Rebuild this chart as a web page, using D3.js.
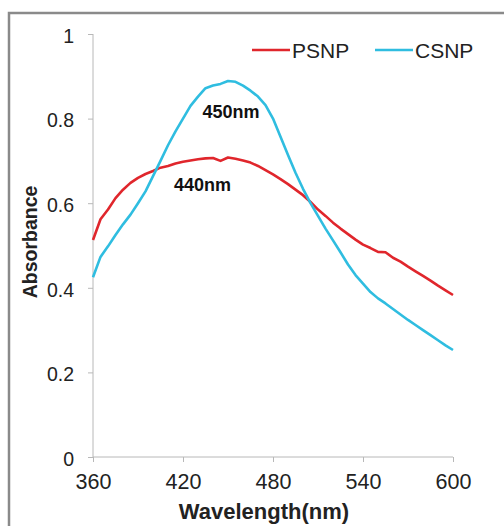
<!DOCTYPE html>
<html>
<head>
<meta charset="utf-8">
<script src="https://cdn.jsdelivr.net/npm/d3@7"></script>
<style>
  body { margin: 0; background: #fff; }
  svg { display: block; font-family: "Liberation Sans", Arial, sans-serif; }
  .axis path, .axis line { stroke: #b8b8b8; }
  .axis text { fill: #222; }
</style>
</head>
<body>
<div id="chart"></div>
<script>
// wavelength (nm) sampled every 5 nm
const wavelengths = [
  360, 365, 370, 375, 380, 385, 390, 395, 400, 405, 410, 415, 420, 425, 430, 435, 440,
  445, 450, 455, 460, 465, 470, 475, 480, 485, 490, 495, 500, 505, 510, 515, 520,
  525, 530, 535, 540, 545, 550, 555, 560, 565, 570, 575, 580, 585, 590, 595, 600
];

const psnp = [
  0.513, 0.562, 0.585, 0.612, 0.632, 0.648, 0.660, 0.669, 0.676, 0.684, 0.688, 0.694, 0.698, 0.701, 0.704, 0.706, 0.707,
  0.700, 0.708, 0.705, 0.701, 0.696, 0.688, 0.678, 0.668, 0.657, 0.645, 0.632, 0.619, 0.603, 0.585, 0.570, 0.554,
  0.540, 0.527, 0.514, 0.502, 0.494, 0.485, 0.484, 0.471, 0.462, 0.450, 0.439, 0.428, 0.417, 0.405, 0.394, 0.383
];

const csnp = [
  0.425, 0.473, 0.498, 0.525, 0.550, 0.573, 0.600, 0.628, 0.664, 0.700, 0.737, 0.770, 0.800, 0.830, 0.852, 0.872, 0.878,
  0.882, 0.889, 0.887, 0.878, 0.866, 0.852, 0.832, 0.800, 0.757, 0.714, 0.672, 0.634, 0.600, 0.570, 0.540, 0.512,
  0.484, 0.455, 0.430, 0.410, 0.390, 0.375, 0.363, 0.350, 0.337, 0.324, 0.312, 0.300, 0.288, 0.276, 0.264, 0.253
];

const xTicks = [360, 420, 480, 540, 600];
const yTicks = [0, 0.2, 0.4, 0.6, 0.8, 1];
const yTickLabels = ["0", "0.2", "0.4", "0.6", "0.8", "1"];

const seriesNames = ["PSNP", "CSNP"];
const seriesColors = ["#e0262c", "#2fbde0"];

// peak labels, placed in data units
const peakLabels = ["450nm", "440nm"];
const peakX = [452, 433];
const peakY = [0.816, 0.644];

(function () {
  const width = 504;
  const height = 526;
  const margin = { top: 34, right: 51, bottom: 69, left: 93 };
  const innerWidth = width - margin.left - margin.right;
  const innerHeight = height - margin.top - margin.bottom;

  const svg = d3.select("#chart")
    .append("svg")
    .attr("width", width)
    .attr("height", height);

  // outer frame
  svg.append("rect")
    .attr("x", 9)
    .attr("y", 13)
    .attr("width", 520)
    .attr("height", 530)
    .attr("fill", "none")
    .attr("stroke", "#8a8a8a")
    .attr("stroke-width", 2.5);

  const g = svg.append("g")
    .attr("transform", `translate(${margin.left},${margin.top})`);

  const x = d3.scaleLinear().domain([360, 600]).range([0, innerWidth]);
  const y = d3.scaleLinear().domain([0, 1]).range([innerHeight, 0]);

  const xAxis = g.append("g")
    .attr("class", "axis")
    .attr("transform", `translate(0,${innerHeight})`)
    .call(d3.axisBottom(x).tickValues(xTicks).tickSize(5).tickPadding(12).tickFormat(d3.format("d")));
  xAxis.selectAll("text").style("font-size", "21.5px");

  const yAxis = g.append("g")
    .attr("class", "axis")
    .call(d3.axisLeft(y).tickValues(yTicks).tickSize(5).tickPadding(14)
      .tickFormat((d, i) => yTickLabels[i]));
  yAxis.selectAll("text").style("font-size", "19.5px").attr("dy", "0.42em");

  xAxis.select(".domain").attr("d", `M0,0H${innerWidth}`);
  yAxis.select(".domain").attr("d", `M0,${innerHeight}V0`);

  svg.append("text")
    .attr("x", 264)
    .attr("y", 519)
    .attr("text-anchor", "middle")
    .attr("font-weight", "bold")
    .attr("font-size", "22px")
    .attr("fill", "#222")
    .text("Wavelength(nm)");

  svg.append("text")
    .attr("transform", "translate(37,242) rotate(-90)")
    .attr("text-anchor", "middle")
    .attr("font-weight", "bold")
    .attr("font-size", "19.5px")
    .attr("fill", "#222")
    .text("Absorbance");

  const line = d3.line()
    .x((d, i) => x(wavelengths[i]))
    .y((d) => y(d));

  [psnp, csnp].forEach((values, i) => {
    g.append("path")
      .datum(values)
      .attr("fill", "none")
      .attr("stroke", seriesColors[i])
      .attr("stroke-width", 2.6)
      .attr("stroke-linejoin", "round")
      .attr("d", line);
  });

  peakLabels.forEach((label, i) => {
    g.append("text")
      .attr("x", x(peakX[i]))
      .attr("y", y(peakY[i]))
      .attr("dy", "0.35em")
      .attr("text-anchor", "middle")
      .attr("font-weight", "bold")
      .attr("font-size", "18px")
      .attr("fill", "#111")
      .text(label);
  });

  // legend
  const legendX = [252, 375];
  seriesNames.forEach((name, i) => {
    const lg = svg.append("g").attr("transform", `translate(${legendX[i]},50)`);
    lg.append("line")
      .attr("x1", 0).attr("x2", 38)
      .attr("stroke", seriesColors[i])
      .attr("stroke-width", 2.6);
    lg.append("text")
      .attr("x", 40)
      .attr("dy", "0.36em")
      .attr("font-size", "21px")
      .attr("fill", "#222")
      .text(name);
  });
})();
</script>
</body>
</html>
